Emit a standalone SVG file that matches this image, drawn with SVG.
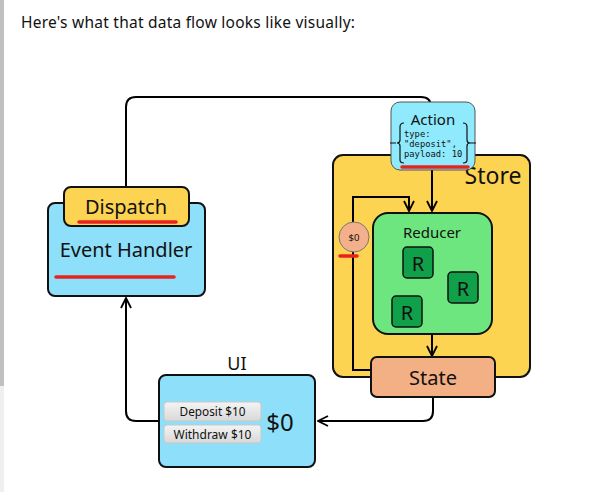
<svg xmlns="http://www.w3.org/2000/svg" width="594" height="492" viewBox="0 0 594 492">
<defs>
<marker id="arr" viewBox="0 0 12 12" refX="11" refY="6" markerWidth="12" markerHeight="12" markerUnits="userSpaceOnUse" orient="auto">
<path d="M1,1 L11,6 L1,11" fill="none" stroke="#000" stroke-width="1.8"/>
</marker>
<linearGradient id="btn" x1="0" y1="0" x2="0" y2="1">
<stop offset="0" stop-color="#f4f4f4"/>
<stop offset="1" stop-color="#d8d8d8"/>
</linearGradient>
</defs>
<style>
.t{font-family:"Noto Sans","Open Sans",sans-serif;fill:#111}
.c{font-family:"DejaVu Sans Mono","Liberation Mono",monospace;font-size:8.8px;fill:#111}
.box{stroke:#111;stroke-width:2}
.red{stroke:#e8231f;stroke-width:3.5;stroke-linecap:round}
.ln{fill:none;stroke:#000;stroke-width:2}
.btn{fill:url(#btn);stroke:#c8c8c8;stroke-width:1}
</style>
<rect x="0" y="0" width="594" height="492" fill="#fff"/>
<rect x="0" y="0" width="4" height="386" fill="#c0c0c0"/>
<rect x="0" y="386" width="4" height="106" fill="#efefef"/>
<text class="t" x="21" y="28" font-size="15.5" fill="#222" textLength="334">Here's what that data flow looks like visually:</text>

<g id="store">
<rect class="box" x="333" y="155" width="197" height="222" rx="10" fill="#fdd352"/>
<text class="t" x="493" y="184" font-size="23" text-anchor="middle">Store</text>
</g>

<g id="connectors">
<path class="ln" d="M126,187 V107 Q126,97 136,97 H421 Q431,97 431,107 V104"/>
<path class="ln" d="M432,170 V211" marker-end="url(#arr)"/>
<path class="ln" d="M371,370 H353 V197 H409 V211" marker-end="url(#arr)"/>
<path class="ln" d="M432,334 V356" marker-end="url(#arr)"/>
<path class="ln" d="M433,397 V411 Q433,421 423,421 H318" marker-end="url(#arr)"/>
<path class="ln" d="M159,421 H136 Q126,421 126,411 V298" marker-end="url(#arr)"/>
</g>

<g id="action">
<rect x="391" y="102" width="84" height="68" rx="9" fill="#8eeafc" stroke="#555" stroke-width="1"/>
<text class="t" x="433" y="125" font-size="15" text-anchor="middle">Action</text>
<path d="M390,143 H396 M404,123 Q400,123 400,127 V140 Q400,143 397,143 Q400,143 400,146 V160 Q400,163 404,163" fill="none" stroke="#111" stroke-width="1.2"/>
<path d="M476,143 H470 M463,123 Q467,123 467,127 V140 Q467,143 470,143 Q467,143 467,146 V160 Q467,163 463,163" fill="none" stroke="#111" stroke-width="1.2"/>
<text class="c" x="404" y="137">type:</text>
<text class="c" x="404" y="147">"deposit",</text>
<text class="c" x="404" y="157">payload: 10</text>
<line class="red" x1="402" y1="167" x2="468" y2="167"/>
</g>

<g id="reducer">
<rect class="box" x="373" y="213" width="119" height="121" rx="15" fill="#6ee680"/>
<text class="t" x="432" y="238" font-size="15" text-anchor="middle">Reducer</text>
<rect x="403" y="247" width="30" height="31" rx="4" fill="#10a049" stroke="#111" stroke-width="1.5"/>
<text class="t" x="418" y="271" font-size="20" text-anchor="middle">R</text>
<rect x="448" y="272" width="30" height="31" rx="4" fill="#10a049" stroke="#111" stroke-width="1.5"/>
<text class="t" x="463" y="296" font-size="20" text-anchor="middle">R</text>
<rect x="392" y="296" width="30" height="31" rx="4" fill="#10a049" stroke="#111" stroke-width="1.5"/>
<text class="t" x="407" y="320" font-size="20" text-anchor="middle">R</text>
</g>

<g id="prev-state">
<circle cx="354" cy="237" r="15" fill="#f3b08a" stroke="#777" stroke-width="1"/>
<text class="t" x="354" y="241" font-size="9.5" text-anchor="middle">$0</text>
<line class="red" x1="340" y1="256" x2="357" y2="256"/>
</g>

<g id="state">
<rect class="box" x="371" y="357" width="124" height="40" rx="6" fill="#f3b084"/>
<text class="t" x="433" y="385" font-size="20" text-anchor="middle">State</text>
</g>

<g id="ui">
<text class="t" x="237" y="370" font-size="18" text-anchor="middle">UI</text>
<rect class="box" x="159" y="375" width="156" height="92" rx="7" fill="#8ddffa"/>
<rect class="btn" x="164" y="402" width="97" height="19" rx="3"/>
<text class="t" x="212.5" y="416" font-size="11.8" text-anchor="middle">Deposit $10</text>
<rect class="btn" x="164" y="425" width="97" height="18" rx="3"/>
<text class="t" x="212.5" y="439" font-size="12" text-anchor="middle">Withdraw $10</text>
<text class="t" x="280" y="431" font-size="24" text-anchor="middle">$0</text>
</g>

<g id="event-handler">
<rect class="box" x="48" y="203" width="157" height="93" rx="7" fill="#8ddffa"/>
<text class="t" x="126" y="257" font-size="20" text-anchor="middle">Event Handler</text>
<line class="red" x1="56" y1="277" x2="174" y2="277"/>
</g>

<g id="dispatch">
<rect class="box" x="64" y="187" width="125" height="39" rx="7" fill="#fdd352"/>
<text class="t" x="126" y="214" font-size="20" text-anchor="middle">Dispatch</text>
<line class="red" x1="79" y1="222" x2="176" y2="222"/>
</g>
</svg>
